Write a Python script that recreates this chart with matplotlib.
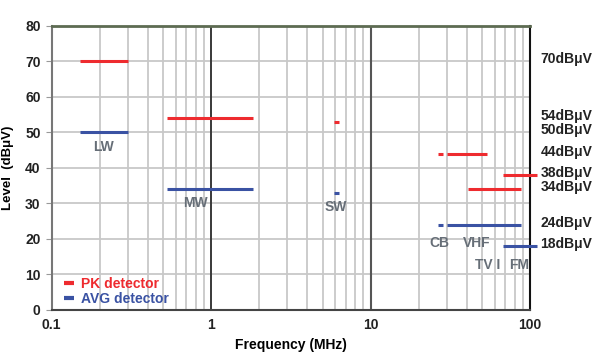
import matplotlib.pyplot as plt

plt.rcParams['font.family'] = ['Liberation Sans', 'DejaVu Sans']
plt.rcParams['font.weight'] = 'bold'
plt.rcParams['axes.labelweight'] = 'bold'

# band segments: (f_start MHz, f_stop MHz, level dBuV)
pk_bands = [(0.15, 0.3, 70), (0.53, 1.84, 54), (5.9, 6.3, 53),
            (26.5, 28.5, 44), (30, 54, 44), (41, 88, 34), (68, 110, 38)]
avg_bands = [(0.15, 0.3, 50), (0.53, 1.84, 34), (5.9, 6.3, 33),
             (26.5, 28.5, 24), (30, 88, 24), (68, 110, 18)]

band_names = ['LW', 'MW', 'SW', 'CB', 'VHF', 'TV I', 'FM']
name_x = [0.21, 0.8, 6.08, 27, 46, 54.6, 85]
name_y = [45.9, 30.1, 29, 18.9, 18.9, 12.7, 12.7]

limit_levels = [70, 54, 50, 44, 38, 34, 24, 18]

red = '#ee2b2f'
blue = '#3a52a3'

fig = plt.figure(figsize=(6.13, 3.55), dpi=100)
ax = fig.add_axes([0.0843, 0.1268, 0.7803, 0.8])

ax.set_xscale('log')
ax.set_xlim(0.1, 100)
ax.set_ylim(0, 80)
ax.set_yticks(range(0, 81, 10))
ax.set_xticks([0.1, 1, 10, 100])
ax.set_xticklabels(['0.1', '1', '10', '100'])
ax.grid(True, which='both', color='#c8c8c8', lw=1.3)
ax.tick_params(which='both', length=0, labelsize=10, pad=6, colors='#222222')
ax.tick_params(axis='y', length=4, color='#999999', pad=4)
ax.axvline(1, color='#222222', lw=1.2)
ax.axvline(10, color='#555555', lw=1.5)
ax.spines['top'].set_color('#5d6b52')
ax.spines['top'].set_linewidth(2)
ax.spines['left'].set_color('#777777')
ax.spines['left'].set_linewidth(1.5)
ax.spines['bottom'].set_color('#444444')
ax.spines['bottom'].set_linewidth(1.5)
ax.spines['right'].set_color('#111111')
ax.spines['right'].set_linewidth(1.5)

for i, (f1, f2, lv) in enumerate(pk_bands):
    ax.plot([f1, f2], [lv, lv], color=red, lw=2.2, clip_on=False,
            solid_capstyle='butt', zorder=3, label='PK detector' if i == 0 else None)
for i, (f1, f2, lv) in enumerate(avg_bands):
    ax.plot([f1, f2], [lv, lv], color=blue, lw=2.2, clip_on=False,
            solid_capstyle='butt', zorder=3, label='AVG detector' if i == 0 else None)

for name, x, y in zip(band_names, name_x, name_y):
    ax.text(x, y, name, color='#666e77', fontsize=10, ha='center', va='center')

for lv in limit_levels:
    ax.text(1.022, lv + 0.6, f'{lv}dBμV', transform=ax.get_yaxis_transform(),
            fontsize=10, va='center', ha='left', color='#222222')

ax.set_xlabel('Frequency (MHz)', fontsize=10, labelpad=4)
ax.set_ylabel('Level  (dBμV)', fontsize=9.5, labelpad=8)

leg = ax.legend(loc='lower left', bbox_to_anchor=(0.0, -0.03), frameon=False,
                handlelength=0.7, handletextpad=0.5, labelspacing=0.05,
                fontsize=10, labelcolor='linecolor')
for h in leg.get_lines():
    h.set_linewidth(3)

fig.savefig('out.png', dpi=100)
